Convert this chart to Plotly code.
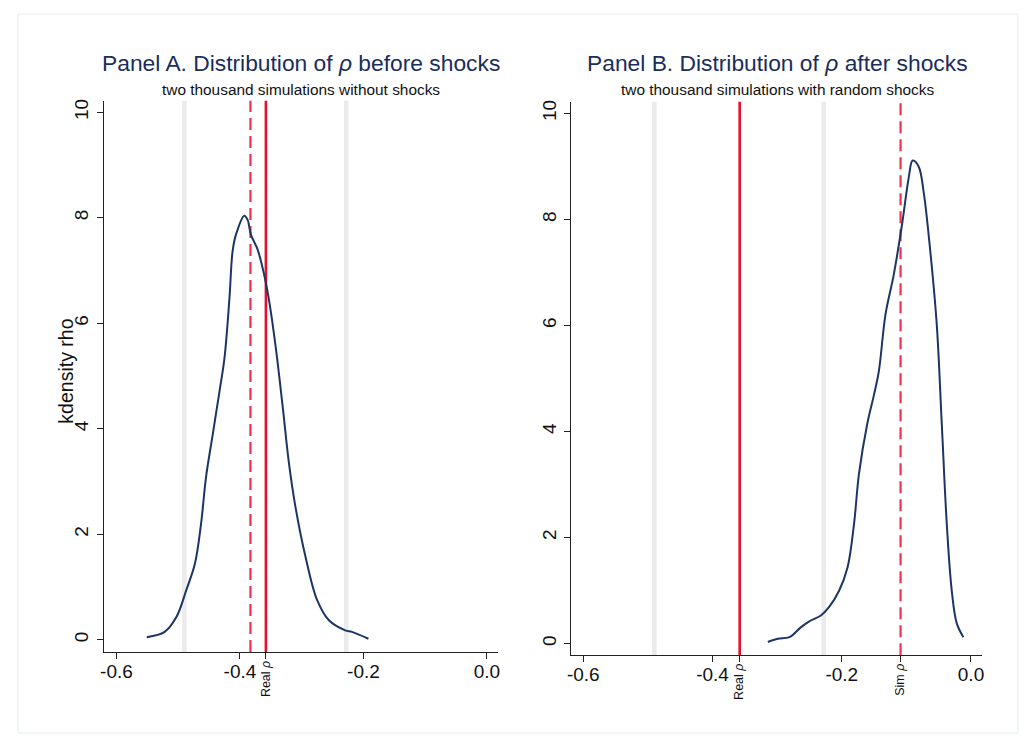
import plotly.graph_objects as go

W, H = 1025, 738

# ---------------- data ----------------
# Panel A: kernel density of rho, simulations without shocks
a_x = [-0.551, -0.522, -0.503, -0.487, -0.473, -0.463, -0.455, -0.444, -0.433, -0.425,
       -0.417, -0.412, -0.4065, -0.393, -0.3876, -0.3823, -0.3715, -0.3608, -0.3527,
       -0.342, -0.3313, -0.3205, -0.310, -0.2938, -0.275, -0.256, -0.2295, -0.2186, -0.192]
a_y = [0.05, 0.15, 0.43, 0.94, 1.44, 2.20, 3.08, 3.90, 4.72, 5.35,
       6.48, 7.36, 7.68, 8.04, 7.96, 7.68, 7.40, 6.92, 6.42,
       5.54, 4.47, 3.33, 2.51, 1.57, 0.75, 0.37, 0.18, 0.15, 0.02]

# Panel B: kernel density of rho, simulations with random shocks
b_x = [-0.3144, -0.299, -0.281, -0.263, -0.2503, -0.2323, -0.2195, -0.204, -0.191, -0.181,
       -0.1734, -0.1606, -0.150, -0.1426, -0.1323, -0.1195, -0.1068, -0.0965, -0.0903,
       -0.0811, -0.0734, -0.063, -0.053, -0.0452, -0.0375, -0.0298, -0.022, -0.0118]
b_y = [0.03, 0.09, 0.12, 0.31, 0.42, 0.53, 0.69, 1.00, 1.44, 2.26,
       3.20, 4.14, 4.70, 5.14, 6.21, 6.96, 7.90, 8.78, 9.11,
       9.00, 8.53, 7.40, 6.02, 4.14, 2.26, 1.00, 0.38, 0.12]

real_rho = -0.358
sim_rho_a = -0.383
sim_rho_b = -0.109
bounds = [-0.49, -0.228]

x_ticks = [-0.6, -0.4, -0.2, 0.0]
x_tick_text = ["-0.6", "-0.4", "-0.2", "0.0"]
y_ticks = [0, 2, 4, 6, 8, 10]

titles = ["Panel A. Distribution of <i>ρ</i> before shocks",
          "Panel B. Distribution of <i>ρ</i> after shocks"]
subtitles = ["two thousand simulations without shocks",
             "two thousand simulations with random shocks"]
y_title = "kdensity rho"

# ---------------- style ----------------
NAVY = "#1c3564"
TITLE_NAVY = "#1a2d5c"
RED = "#e4102e"
RED_DASH = "#f0304f"
GRAY = "#ebebeb"
FONT = "Liberation Sans, Arial, sans-serif"


def px(x):
    return x / W


def py(y):
    return 1 - y / H


fig = go.Figure()
fig.add_trace(go.Scatter(x=a_x, y=a_y, mode="lines", line=dict(color=NAVY, width=2, shape="spline"),
                         xaxis="x", yaxis="y", showlegend=False, hoverinfo="skip"))
fig.add_trace(go.Scatter(x=b_x, y=b_y, mode="lines", line=dict(color=NAVY, width=2, shape="spline"),
                         xaxis="x2", yaxis="y2", showlegend=False, hoverinfo="skip"))

axis_common = dict(showgrid=False, zeroline=False, showline=True, linecolor="#222", linewidth=1.2,
                   ticks="outside", ticklen=6, tickwidth=1.2, tickcolor="#222",
                   tickfont=dict(family=FONT, size=19, color="#111"))

fig.update_layout(
    width=W, height=H,
    margin=dict(l=0, r=0, t=0, b=0),
    paper_bgcolor="white", plot_bgcolor="white",
    font=dict(family=FONT),
    xaxis=dict(domain=[px(100.7), px(497)], range=[-0.62, 0.018], anchor="y",
               tickvals=x_ticks + [real_rho], ticktext=x_tick_text + [""],
               ticklabelstandoff=-4, **axis_common),
    yaxis=dict(domain=[py(651.7), py(98.9)], range=[-0.23, 10.22], anchor="x",
               tickvals=y_ticks, tickangle=-90, ticklabelstandoff=1, **axis_common),
    xaxis2=dict(domain=[px(570.7), px(984)], range=[-0.6185, 0.0174], anchor="y2",
                tickvals=x_ticks + [real_rho, sim_rho_b], ticktext=x_tick_text + ["", ""],
                ticklabelstandoff=-4, **axis_common),
    yaxis2=dict(domain=[py(655), py(100)], range=[-0.22, 10.22], anchor="x2",
                tickvals=y_ticks, tickangle=-90, ticklabelstandoff=1, **axis_common),
)

shapes = []
for xa, ya in (("x", "y"), ("x2", "y2")):
    for b in bounds:
        shapes.append(dict(type="line", xref=xa, yref=ya + " domain", x0=b, x1=b, y0=0, y1=1,
                           line=dict(color=GRAY, width=4.5), layer="below"))
shapes.append(dict(type="line", xref="x", yref="y domain", x0=sim_rho_a, x1=sim_rho_a, y0=0, y1=1,
                   line=dict(color=RED_DASH, width=2.2, dash="12px,6px"), layer="below"))
shapes.append(dict(type="line", xref="x", yref="y domain", x0=real_rho, x1=real_rho, y0=0, y1=1,
                   line=dict(color=RED, width=2.6), layer="below"))
shapes.append(dict(type="line", xref="x2", yref="y2 domain", x0=real_rho, x1=real_rho, y0=0, y1=1,
                   line=dict(color=RED, width=2.6), layer="below"))
shapes.append(dict(type="line", xref="x2", yref="y2 domain", x0=sim_rho_b, x1=sim_rho_b, y0=0, y1=1,
                   line=dict(color=RED_DASH, width=2.2, dash="12px,6px"), layer="below"))
# faint outer frame
shapes.append(dict(type="rect", xref="paper", yref="paper", x0=px(14), x1=px(1020), y0=py(733), y1=py(12),
                   line=dict(color="#e8efef", width=1), layer="below"))
fig.update_layout(shapes=shapes)

ann = []
centers = [298.5, 778]
for i in range(2):
    ann.append(dict(xref="paper", yref="paper", x=px(centers[i]), y=py(61), text=titles[i],
                    showarrow=False, xanchor="center", yanchor="middle",
                    font=dict(family=FONT, size=22.8, color=TITLE_NAVY)))
    ann.append(dict(xref="paper", yref="paper", x=px(centers[i]), y=py(88), text=subtitles[i],
                    showarrow=False, xanchor="center", yanchor="middle",
                    font=dict(family=FONT, size=15.4, color="#111")))
ann.append(dict(xref="paper", yref="paper", x=px(62), y=py(370), text=y_title, textangle=-90,
                showarrow=False, xanchor="center", yanchor="middle",
                font=dict(family=FONT, size=19.5, color="#111")))
for xa, xv, txt, ytop in (("x", real_rho, "Real <i>ρ</i>", 659), ("x2", real_rho, "Real <i>ρ</i>", 662),
                          ("x2", sim_rho_b, "Sim <i>ρ</i>", 662)):
    ann.append(dict(xref=xa, yref="paper", x=xv, y=py(ytop), text=txt, textangle=-90,
                    showarrow=False, xanchor="center", yanchor="top",
                    font=dict(family=FONT, size=12.5, color="#111")))
fig.update_layout(annotations=ann)

fig.write_html("out.html", config={"displayModeBar": False},
               post_script="document.body.style.margin='0';")
